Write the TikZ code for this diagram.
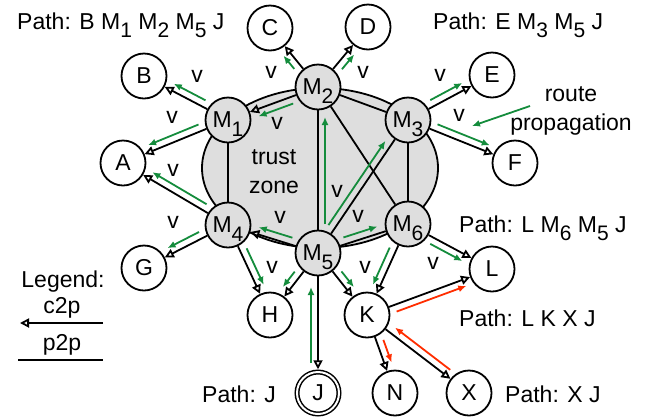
\documentclass[tikz,border=0pt]{standalone}
\usepackage{fontspec}
\setmainfont{Liberation Sans}
\usetikzlibrary{arrows.meta,calc}
\definecolor{routegreen}{RGB}{20,140,60}
\definecolor{leakred}{RGB}{255,45,0}
\newcommand{\dn}[1]{\raisebox{-8.5pt}[0pt][0pt]{\fontsize{21}{21}\selectfont #1}}

\begin{document}
\begin{tikzpicture}[x=1pt,y=-1pt,
  font=\fontsize{23}{29}\selectfont,
  as/.style={circle,draw,line width=1.8pt,minimum size=45pt,inner sep=0pt,fill=white},
  ms/.style={as,fill=black!13},
  cp/.style={line width=1.8pt,-{Triangle[open,length=9pt,width=9pt]}},
  pp/.style={line width=1.8pt},
  route/.style={draw=routegreen,line width=1.8pt,-{Latex[length=8pt,width=7pt]}},
  leak/.style={route,draw=leakred},
  lbl/.style={inner sep=0pt},
  txt/.style={inner sep=0pt,anchor=base west}]
\useasboundingbox (0,0) rectangle (647,416);

% trust zone
\draw[line width=1.8pt,fill=black!13] (320,168) ellipse [x radius=118pt, y radius=80pt];
\node[align=center] (tz) at (274,172) {trust\\zone};

% ASes
\node[ms] (M1) at (228,120) {M\dn{1}};
\node[ms] (M2) at (318,87) {M\dn{2}};
\node[ms] (M3) at (408,120) {M\dn{3}};
\node[ms] (M4) at (228,225) {M\dn{4}};
\node[ms] (M5) at (318,253) {M\dn{5}};
\node[ms] (M6) at (408,224) {M\dn{6}};
\node[as] (A) at (123,163) {A};
\node[as] (B) at (144,76) {B};
\node[as] (C) at (270,28) {C};
\node[as] (D) at (368,27) {D};
\node[as] (E) at (492,75) {E};
\node[as] (F) at (515,163) {F};
\node[as] (G) at (144,268) {G};
\node[as] (H) at (270,315) {H};
\node[as,double,double distance=2pt,line width=1.5pt,minimum size=42pt] (J) at (318,393) {J};
\node[as] (K) at (367,315) {K};
\node[as] (L) at (492,269) {L};
\node[as] (N) at (395,393) {N};
\node[as] (X) at (469,393) {X};

% p2p links
\draw[pp] (M1) -- (M4);
\draw[pp] (M2) -- (M3);
\draw[pp] (M2) -- (M5);
\draw[pp] (M2) -- (M6);
\draw[pp] (M3) -- (M5);
\draw[pp] (M3) -- (M6);
\draw[pp] (M5) -- (M6);

% c2p links
\draw[cp] (M1) -- (B);
\draw[cp] (M1) -- (A);
\draw[cp] (M2) -- (C);
\draw[cp] (M2) -- (D);
\draw[cp] (M3) -- (E);
\draw[cp] (M3) -- (F);
\draw[cp] (M2) -- (M1);
\draw[cp] (M4) -- (A);
\draw[cp] (M4) -- (G);
\draw[cp] (M4) -- (H);
\draw[cp] (M5) -- (H);
\draw[cp] (M5) -- (M4);
\draw[cp,shorten >=2pt] (M5) -- (J);
\draw[cp] (M5) -- (K);
\draw[cp] (M6) -- (K);
\draw[cp] (M6) -- (L);
\draw[cp] (K) -- (L);
\draw[cp] (K) -- (N);
\draw[cp] (K) -- (X);

% route propagation
\draw[route] ($(J)!30pt!(M5)!7pt!90:(M5)$) -- ($(M5)!34pt!(J)!7pt!-90:(J)$);
\draw[route] ($(M1)!29pt!(B)!-7pt!90:(B)$) -- ($(B)!30pt!(M1)!-7pt!-90:(M1)$);
\draw[route] ($(M1)!29pt!(A)!-7pt!90:(A)$) -- ($(A)!30pt!(M1)!-7pt!-90:(M1)$);
\draw[route] ($(M2)!29pt!(C)!7pt!90:(C)$) -- ($(C)!30pt!(M2)!7pt!-90:(M2)$);
\draw[route] ($(M2)!29pt!(D)!-7pt!90:(D)$) -- ($(D)!30pt!(M2)!-7pt!-90:(M2)$);
\draw[route] ($(M3)!29pt!(E)!7pt!90:(E)$) -- ($(E)!30pt!(M3)!7pt!-90:(M3)$);
\draw[route] ($(M3)!29pt!(F)!7pt!90:(F)$) -- ($(F)!30pt!(M3)!7pt!-90:(M3)$);
\draw[route] ($(M2)!29pt!(M1)!7pt!90:(M1)$) -- ($(M1)!30pt!(M2)!7pt!-90:(M2)$);
\draw[route] ($(M4)!29pt!(A)!-7pt!90:(A)$) -- ($(A)!30pt!(M4)!-7pt!-90:(M4)$);
\draw[route] ($(M4)!29pt!(G)!-7pt!90:(G)$) -- ($(G)!30pt!(M4)!-7pt!-90:(M4)$);
\draw[route] ($(M4)!29pt!(H)!7pt!90:(H)$) -- ($(H)!30pt!(M4)!7pt!-90:(M4)$);
\draw[route] ($(M5)!29pt!(H)!-7pt!90:(H)$) -- ($(H)!30pt!(M5)!-7pt!-90:(M5)$);
\draw[route] ($(M5)!29pt!(M4)!-7pt!90:(M4)$) -- ($(M4)!30pt!(M5)!-7pt!-90:(M5)$);
\draw[route] ($(M5)!29pt!(M2)!-7pt!90:(M2)$) -- ($(M2)!30pt!(M5)!-7pt!-90:(M5)$);
\draw[route] ($(M5)!29pt!(M3)!7pt!90:(M3)$) -- ($(M3)!30pt!(M5)!7pt!-90:(M5)$);
\draw[route] ($(M5)!29pt!(M6)!7pt!90:(M6)$) -- ($(M6)!30pt!(M5)!7pt!-90:(M5)$);
\draw[route] ($(M5)!29pt!(K)!7pt!90:(K)$) -- ($(K)!30pt!(M5)!7pt!-90:(M5)$);
\draw[route] ($(M6)!29pt!(K)!-7pt!90:(K)$) -- ($(K)!30pt!(M6)!-7pt!-90:(M6)$);
\draw[route] ($(M6)!29pt!(L)!-7pt!90:(L)$) -- ($(L)!30pt!(M6)!-7pt!-90:(M6)$);

% leaked routes
\draw[leak] ($(X)!29pt!(K)!-7pt!90:(K)$) -- ($(K)!30pt!(X)!-7pt!-90:(X)$);
\draw[leak] ($(K)!29pt!(N)!7pt!90:(N)$) -- ($(N)!30pt!(K)!7pt!-90:(K)$);
\draw[leak] ($(K)!29pt!(L)!-7pt!90:(L)$) -- ($(L)!30pt!(K)!-7pt!-90:(K)$);

% v labels
\node[lbl] (vb) at (197,76) {v};
\node[lbl] (va) at (172,117) {v};
\node[lbl] (vc) at (271,72) {v};
\node[lbl] (vd) at (363,72) {v};
\node[lbl] (ve) at (440,75) {v};
\node[lbl] (vf) at (459,115) {v};
\node[lbl] (vm1) at (277,123) {v};
\node[lbl] (va2) at (173,170) {v};
\node[lbl] (vg) at (173,222) {v};
\node[lbl] (vh) at (272,267) {v};
\node[lbl] (vm4) at (280,217) {v};
\node[lbl] (vm23) at (337,191) {v};
\node[lbl] (vm6) at (358,216) {v};
\node[lbl] (vk) at (365,267) {v};
\node[lbl] (vl) at (433,263) {v};

% annotations
\node[align=center] (rp) at (571,111) {route\\propagation};
\coordinate (rptail) at (530,106);
\coordinate (rptip) at (472,126);
\draw[route] (rptail) -- (rptip);
\node[txt] (pb) at (17,29) {Path: B M\dn{1} M\dn{2} M\dn{5} J};
\node[txt] (pe) at (433,29) {Path: E M\dn{3} M\dn{5} J};
\node[txt] (pl) at (459,232) {Path: L M\dn{6} M\dn{5} J};
\node[txt] (plk) at (459,326) {Path: L K X J};
\node[txt] (pj) at (202,402) {Path: J};
\node[txt] (px) at (505,402) {Path: X J};

% legend
\node[anchor=base] (lg) at (63,287) {Legend:};
\node[anchor=base] (lgc) at (62,313) {c2p};
\node[anchor=base] (lgp) at (62,350) {p2p};
\coordinate (lgce) at (103,323);
\coordinate (lgcw) at (20,323);
\coordinate (lgpe) at (103,360);
\coordinate (lgpw) at (18,360);
\draw[cp] (lgce) -- (lgcw);
\draw[pp] (lgpw) -- (lgpe);

\end{tikzpicture}
\end{document}
